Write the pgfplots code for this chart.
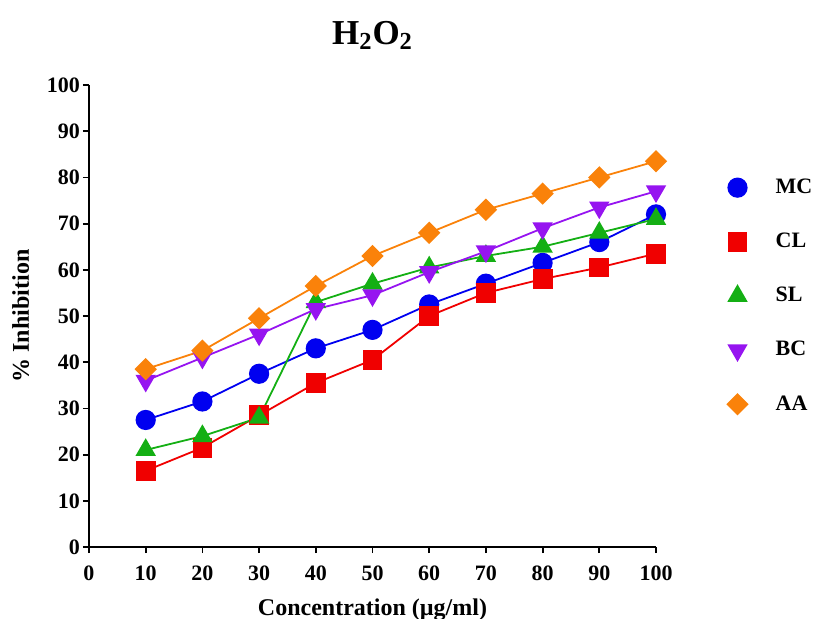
\documentclass[border=0pt]{standalone}
\usepackage{pgfplots}
\pgfplotsset{compat=1.18}
\usepackage{fontspec}
\setmainfont{Liberation Serif}
\definecolor{cMC}{RGB}{0,0,240}
\definecolor{cCL}{RGB}{240,0,0}
\definecolor{cSL}{RGB}{20,175,20}
\definecolor{cBC}{RGB}{150,20,240}
\definecolor{cAA}{RGB}{250,130,10}
\begin{document}
\begin{tikzpicture}
\begin{axis}[
  at={(0,0)}, anchor=south west,
  scale only axis, width=283.5pt, height=231pt,
  xmin=0, xmax=100, ymin=0, ymax=100,
  axis lines=left, axis line style={line width=1pt, -},
  xtick={0,10,...,100}, ytick={0,10,...,100},
  tick style={line width=0.9pt, black}, tick align=outside, major tick length=3pt,
  /pgf/number format/assume math mode=true,
  ticklabel style={font=\bfseries\fontsize{11}{13}\selectfont},
  xticklabel style={yshift=-3pt},
  yticklabel style={xshift=2pt},
  xlabel={\bfseries Concentration (µg/ml)},
  ylabel={\bfseries \% Inhibition},
  label style={font=\bfseries\fontsize{12}{14}\selectfont},
  xlabel style={yshift=-2pt},
  ylabel style={yshift=2pt},
  title={\bfseries H$_{\mathbf 2}$O$_{\mathbf 2}$},
  title style={font=\bfseries\fontsize{17.5}{20}\selectfont, yshift=8pt},
  clip=false,
  every axis plot/.append style={line width=0.9pt},
  legend style={draw=none, fill=none, at={(1.115,0.815)}, anchor=north west,
    font=\bfseries\fontsize{11}{13}\selectfont, row sep=14.3pt},
  legend cell align=left,
  legend image code/.code={\path[draw=none] (0cm,0cm) -- (0.6cm,0cm); \draw[#1] plot coordinates {(0cm,0cm)};},
]
\addplot[color=cMC, mark=*, mark size=4.6pt, mark options={solid, fill=cMC}] coordinates {
(10,27.5)(20,31.5)(30,37.5)(40,43)(50,47)(60,52.5)(70,57)(80,61.5)(90,66)(100,72)};
\addlegendentry{MC}
\addplot[color=cCL, mark=square*, mark size=4.5pt, mark options={solid, fill=cCL}] coordinates {
(10,16.5)(20,21.5)(30,28.5)(40,35.5)(50,40.5)(60,50)(70,55)(80,58)(90,60.5)(100,63.5)};
\addlegendentry{CL}
\addplot[color=cSL, mark=triangle*, mark size=5pt, mark options={solid, fill=cSL}] coordinates {
(10,21)(20,24)(30,28)(40,53)(50,57)(60,60.5)(70,63)(80,65)(90,68)(100,71)};
\addlegendentry{SL}
\addplot[color=cBC, mark=triangle*, mark size=5pt, mark options={solid, fill=cBC, rotate=180}] coordinates {
(10,36)(20,41)(30,46)(40,51.5)(50,54.5)(60,59.5)(70,64)(80,69)(90,73.5)(100,77)};
\addlegendentry{BC}
\addplot[color=cAA, mark=square*, mark size=3.5pt, mark options={solid, fill=cAA, rotate=45}] coordinates {
(10,38.5)(20,42.5)(30,49.5)(40,56.5)(50,63)(60,68)(70,73)(80,76.5)(90,80)(100,83.5)};
\addlegendentry{AA}
\end{axis}
\pgfresetboundingbox
\path[use as bounding box] (-44.5pt,-35.5pt) rectangle (362pt,273.5pt);
\end{tikzpicture}
\end{document}
